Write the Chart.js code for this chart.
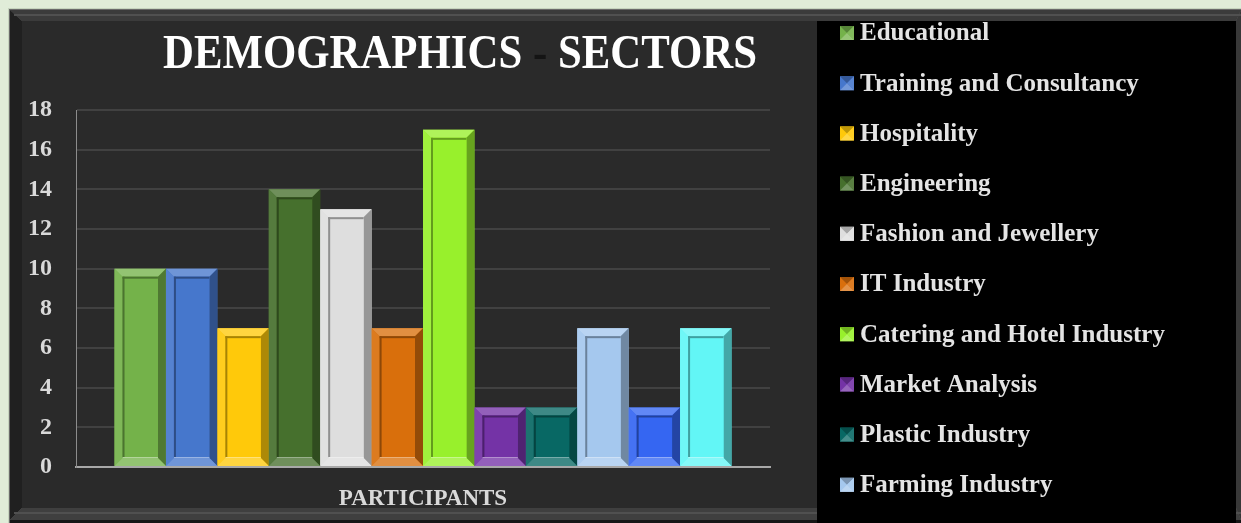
<!DOCTYPE html>
<html>
<head>
<meta charset="utf-8">
<title>Demographics - Sectors</title>
<script src="https://cdn.jsdelivr.net/npm/chart.js@4.4.1/dist/chart.umd.min.js"></script>
<style>
  html, body { margin: 0; padding: 0; background: #e0ecd8; }
  #wrap { width: 1241px; height: 523px; }
</style>
</head>
<body>
<div id="wrap"><canvas id="sectors-chart" width="1241" height="523"></canvas></div>
<script>
// participants per sector
const categories = ["PARTICIPANTS"];
const sectors = [
    "Educational",
    "Training and Consultancy",
    "Hospitality",
    "Engineering",
    "Fashion and Jewellery",
    "IT Industry",
    "Catering and Hotel Industry",
    "Market Analysis",
    "Plastic Industry",
    "Farming Industry",
    "Other",
    "Unspecified"
];
const participants = [10, 10, 7, 14, 13, 7, 17, 3, 3, 7, 3, 7];
const sectorColors = [
    "#74b24a", "#4677cc", "#ffc90a", "#46702d", "#dedede", "#d96f0c",
    "#98f02c", "#7433a6", "#086864", "#a5c8ee", "#3566f2", "#62f6f6"
];
const yTicks = [0, 2, 4, 6, 8, 10, 12, 14, 16, 18];
const titleParts = ["DEMOGRAPHICS", " - ", "SECTORS"];

const SERIF = "'Liberation Serif', 'DejaVu Serif', serif";

// mix a hex colour toward white (amt > 0) or black (amt < 0)
const shade = (hex, amt) => {
    const n = parseInt(hex.slice(1), 16);
    const t = amt < 0 ? 0 : 255, p = Math.abs(amt);
    const mix = v => Math.round(v + (t - v) * p);
    return `rgb(${mix(n >> 16)},${mix((n >> 8) & 255)},${mix(n & 255)})`;
};

const poly = (ctx, pts, fill) => {
    ctx.beginPath();
    ctx.moveTo(pts[0][0], pts[0][1]);
    pts.slice(1).forEach(p => ctx.lineTo(p[0], p[1]));
    ctx.closePath();
    ctx.fillStyle = fill;
    ctx.fill();
};

// bevelled outer frame, dark panel and black legend box
const framePlugin = {
    id: "frame",
    beforeDraw(chart) {
        const ctx = chart.ctx, w = chart.width, h = chart.height;
        ctx.save();
        ctx.fillStyle = "#e0ecd8";
        ctx.fillRect(0, 0, w, h);
        ctx.fillStyle = "#c6d4be";
        ctx.fillRect(8, 8, w - 8, h - 8);
        ctx.fillStyle = "#6a6a6a";
        ctx.fillRect(9, 9, w - 9, h - 9);
        poly(ctx, [[10, 10], [w, 10], [w - 5, 21], [22, 21]], "#3b3b3b");
        poly(ctx, [[10, 10], [22, 21], [22, 508], [10, 520]], "#202020");
        poly(ctx, [[10, 520], [22, 508], [w - 5, 508], [w, 520]], "#3f3f3f");
        poly(ctx, [[w, 10], [w, 520], [w - 5, 508], [w - 5, 21]], "#383838");
        ctx.fillStyle = "#505050";
        ctx.fillRect(14, 14, w - 14, 2);
        ctx.fillRect(14, 512, w - 14, 2);
        ctx.fillStyle = "#161616";
        ctx.fillRect(10, 520, w - 10, 3);
        ctx.fillStyle = "#2a2a2a";
        ctx.fillRect(22, 21, w - 27, 487);
        ctx.fillStyle = "#000000";
        ctx.fillRect(817, 21, w - 5 - 817, h - 21);
        ctx.restore();
    }
};

// slanted bevel drawn over every bar
const bevelPlugin = {
    id: "bevel",
    afterDatasetsDraw(chart) {
        const ctx = chart.ctx;
        ctx.save();
        chart.data.datasets.forEach((ds, i) => {
            chart.getDatasetMeta(i).data.forEach(bar => {
                const { x, y, base, width } = bar.getProps(["x", "y", "base", "width"], true);
                const L = x - width / 2, R = x + width / 2, T = y, B = base;
                const d = Math.min(8, (B - T) / 3);
                const c = ds.backgroundColor;
                poly(ctx, [[L, T], [R, T], [R - d, T + d], [L + d, T + d]], shade(c, 0.22));
                poly(ctx, [[L, T], [L + d, T + d], [L + d, B - d], [L, B]], shade(c, 0.08));
                poly(ctx, [[R, T], [R, B], [R - d, B - d], [R - d, T + d]], shade(c, -0.32));
                poly(ctx, [[L, B], [L + d, B - d], [R - d, B - d], [R, B]], shade(c, 0.22));
                // inner face with a shadow on its top and left edges
                ctx.fillStyle = c;
                ctx.fillRect(L + d, T + d, R - L - 2 * d, B - T - 2 * d);
                ctx.fillStyle = shade(c, -0.35);
                ctx.fillRect(L + d, T + d, 2, B - T - 2 * d);
                ctx.fillRect(L + d, T + d, R - L - 2 * d, 2);
                ctx.fillStyle = shade(c, 0.45);
                ctx.fillRect(L + d, B - d - 1, R - L - 2 * d, 1);
            });
        });
        ctx.restore();
    }
};

// title and sector legend
const textPlugin = {
    id: "texts",
    afterDraw(chart) {
        const ctx = chart.ctx;
        ctx.save();
        ctx.font = `bold 48px ${SERIF}`;
        ctx.textBaseline = "alphabetic";
        const full = ctx.measureText(titleParts.join("")).width;
        ctx.translate(163, 68);
        ctx.scale(594 / full, 1);
        let tx = 0;
        titleParts.forEach((part, i) => {
            ctx.fillStyle = i === 1 ? "#141414" : "#ffffff";
            ctx.fillText(part, tx, 0);
            tx += ctx.measureText(part).width;
        });
        ctx.restore();

        ctx.save();
        ctx.font = `bold 25px ${SERIF}`;
        ctx.textBaseline = "middle";
        chart.data.datasets.forEach((ds, i) => {
            const cy = 33 + i * 50.2;
            const c = ds.backgroundColor;
            const bx = 840, by = cy - 7, s = 14;
            ctx.fillStyle = c;
            ctx.fillRect(bx, by, s, s);
            poly(ctx, [[bx, by], [bx + s, by], [bx + s / 2, by + s / 2]], shade(c, -0.25));
            poly(ctx, [[bx, by + s], [bx + s, by + s], [bx + s / 2, by + s / 2]], shade(c, 0.25));
            poly(ctx, [[bx + s, by], [bx + s, by + s], [bx + s / 2, by + s / 2]], shade(c, 0.1));
            ctx.fillStyle = "#e4e4e4";
            ctx.fillText(ds.label, 860, cy + 1);
        });
        ctx.restore();
    }
};

const tickFont = size => ({ family: SERIF, weight: "bold", size });

new Chart(document.getElementById("sectors-chart"), {
    type: "bar",
    data: {
        labels: categories,
        datasets: sectors.map((name, i) => ({
            label: name,
            data: [participants[i]],
            backgroundColor: sectorColors[i],
            borderWidth: 0,
            categoryPercentage: 0.889,
            barPercentage: 1.0
        }))
    },
    options: {
        responsive: false,
        animation: false,
        layout: { padding: { top: 110, right: 471, left: 0, bottom: 0 } },
        plugins: {
            legend: { display: false },
            title: { display: false },
            tooltip: { enabled: false }
        },
        scales: {
            x: {
                grid: { display: false },
                border: { display: true, color: "#a8a8a8", width: 2 },
                ticks: { color: "#d9d9d9", font: tickFont(23), padding: 10 },
                afterFit(scale) { scale.height = 56; }
            },
            y: {
                min: 0,
                max: 18,
                afterBuildTicks(scale) { scale.ticks = yTicks.map(v => ({ value: v })); },
                grid: { color: "#414141", lineWidth: 2, drawTicks: false },
                border: { color: "#8c8c8c", width: 1 },
                ticks: { color: "#d9d9d9", font: tickFont(24), padding: 24 },
                afterFit(scale) { scale.width = 76; }
            }
        }
    },
    plugins: [framePlugin, bevelPlugin, textPlugin]
});
</script>
</body>
</html>
